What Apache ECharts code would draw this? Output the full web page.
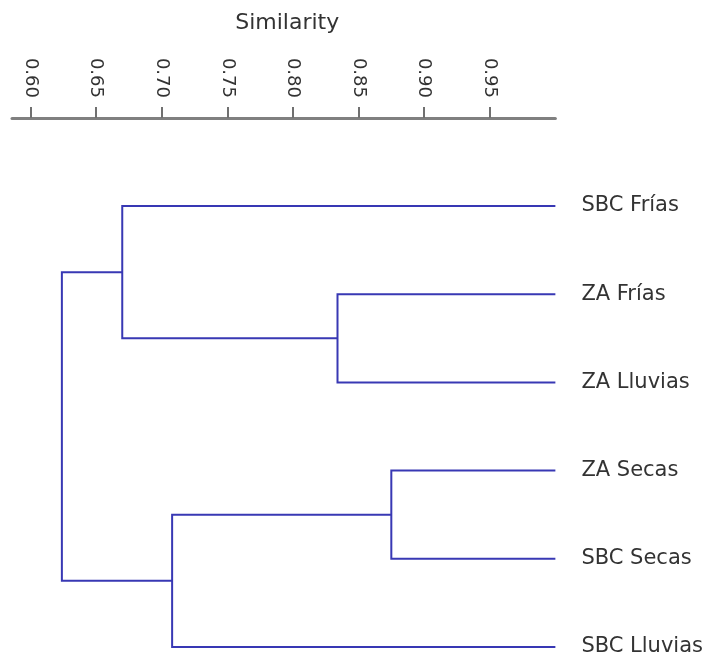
<!DOCTYPE html>
<html>
<head>
<meta charset="utf-8">
<title>Similarity dendrogram</title>
<script src="https://cdn.jsdelivr.net/npm/echarts@6/dist/echarts.min.js"></script>
<style>
  html, body { margin: 0; padding: 0; background: #ffffff; }
  #chart { width: 706px; height: 664px; }
</style>
</head>
<body>
<div id="chart"></div>
<script>
// Leaves of the dendrogram, top to bottom
const leaves = ['SBC Frías', 'ZA Frías', 'ZA Lluvias', 'ZA Secas', 'SBC Secas', 'SBC Lluvias'];

// Each merge joins two nodes (leaf index, or 6 + merge index) at a similarity level
const mergeLeft  = [1, 0, 3, 8, 7];
const mergeRight = [2, 6, 4, 5, 9];
const mergeLevel = [0.834, 0.670, 0.875, 0.708, 0.624];

// Leaf similarity (identity)
const leafLevel = 1.0;

// Similarity axis ticks
const tickValues = [0.60, 0.65, 0.70, 0.75, 0.80, 0.85, 0.90, 0.95];
const axisTitle = 'Similarity';

// Node positions: x = similarity, y = row (midpoint of children for merges)
const nodeX = leaves.map(() => leafLevel);
const nodeY = leaves.map((_, i) => i);
const branches = [];
mergeLevel.forEach((lvl, m) => {
  const a = mergeLeft[m], b = mergeRight[m];
  branches.push({
    coords: [
      [nodeX[a], nodeY[a]],
      [lvl, nodeY[a]],
      [lvl, nodeY[b]],
      [nodeX[b], nodeY[b]]
    ]
  });
  nodeX.push(lvl);
  nodeY.push((nodeY[a] + nodeY[b]) / 2);
});

const chart = echarts.init(document.getElementById('chart'), null, { renderer: 'canvas' });
const font = 'DejaVu Sans';

chart.setOption({
  animation: false,
  backgroundColor: '#ffffff',
  grid: { left: 12, right: 148, top: 206, bottom: 17 },
  xAxis: {
    type: 'value',
    position: 'top',
    offset: 88,
    min: 0.586,
    max: 1.0,
    name: axisTitle,
    nameLocation: 'middle',
    nameGap: 84,
    nameTextStyle: { fontFamily: font, fontSize: 22, color: '#333333', padding: [0, 0, 0, 7] },
    axisLine: { show: true, onZero: false, lineStyle: { color: '#808080', width: 3 } },
    axisTick: { show: true, length: 11, customValues: tickValues, lineStyle: { color: '#707070', width: 2 } },
    axisLabel: {
      customValues: tickValues,
      rotate: 90,
      margin: 20,
      fontFamily: font,
      fontSize: 18,
      color: '#333333',
      formatter: v => v.toFixed(2)
    },
    splitLine: { show: false }
  },
  yAxis: {
    type: 'value',
    position: 'right',
    inverse: true,
    min: 0,
    max: leaves.length - 1,
    interval: 1,
    axisLine: { show: false },
    axisTick: { show: false },
    splitLine: { show: false },
    axisLabel: {
      margin: 26,
      fontFamily: font,
      fontSize: 21,
      color: '#333333',
      formatter: v => leaves[v] || ''
    }
  },
  series: [{
    type: 'lines',
    coordinateSystem: 'cartesian2d',
    polyline: true,
    silent: true,
    lineStyle: { color: '#3838b4', width: 2, opacity: 1 },
    data: branches
  }]
});
</script>
</body>
</html>
